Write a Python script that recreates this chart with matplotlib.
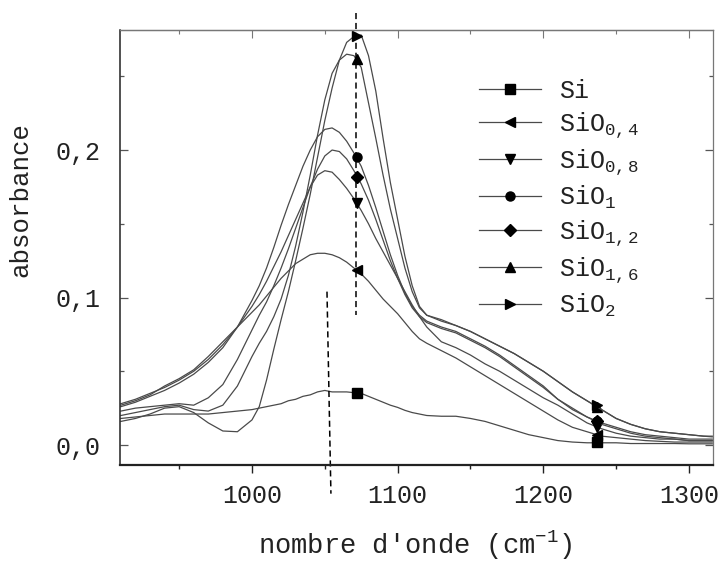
import matplotlib
matplotlib.use("Agg")
import matplotlib.pyplot as plt
from matplotlib.ticker import MultipleLocator, FixedLocator, FixedFormatter

plt.rcParams['font.family'] = ['Liberation Mono', 'DejaVu Sans Mono']
plt.rcParams['mathtext.fontset'] = 'custom'
plt.rcParams['mathtext.rm'] = 'Liberation Mono'
plt.rcParams['mathtext.it'] = 'Liberation Mono'
plt.rcParams['mathtext.bf'] = 'Liberation Mono'

# ---- data ----
wavenumber = [910, 920, 930, 940, 950, 960, 970, 980, 990, 1000,
              1005, 1010, 1015, 1020, 1025, 1030, 1035, 1040, 1045, 1050,
              1055, 1060, 1065, 1070, 1075, 1080, 1085, 1090, 1095, 1100,
              1105, 1110, 1115, 1120, 1130, 1140, 1150, 1160, 1170, 1180,
              1190, 1200, 1210, 1220, 1230, 1240, 1250, 1260, 1270, 1280,
              1290, 1300, 1310, 1316]

abs_Si = [.018, .019, .020, .021, .021, .021, .021, .022, .023, .024,
          .025, .026, .027, .028, .030, .031, .033, .034, .036, .037,
          .036, .036, .036, .0355, .035, .033, .031, .029, .027, .0255,
          .0235, .022, .021, .020, .0195, .0195, .018, .016, .013, .010,
          .007, .005, .003, .002, .0015, .0015, .0015, .001, .001, .001,
          .001, .0008, .0008, .0008]

abs_SiO04 = [.027, .030, .034, .040, .045, .051, .060, .070, .080, .090,
             .095, .101, .107, .113, .118, .123, .126, .129, .130, .130,
             .129, .127, .124, .120, .116, .111, .105, .099, .094, .089,
             .083, .077, .072, .069, .064, .059, .053, .047, .041, .035,
             .029, .023, .017, .012, .009, .006, .005, .004, .003, .0025,
             .002, .002, .002, .002]

abs_SiO08 = [.028, .031, .035, .039, .044, .050, .058, .068, .080, .094,
             .102, .111, .121, .131, .142, .153, .164, .175, .183, .186,
             .185, .180, .174, .167, .159, .150, .140, .131, .122, .113,
             .104, .095, .087, .080, .070, .066, .061, .055, .050, .044,
             .038, .032, .027, .021, .015, .011, .008, .006, .005, .004,
             .004, .003, .003, .003]

abs_SiO1 = [.026, .029, .033, .037, .042, .048, .056, .066, .080, .098,
            .108, .120, .134, .149, .163, .176, .189, .200, .209, .214,
            .215, .212, .206, .198, .189, .176, .161, .145, .129, .115,
            .103, .094, .088, .084, .080, .077, .072, .067, .061, .054,
            .047, .040, .031, .025, .019, .015, .012, .009, .007, .006,
            .005, .004, .004, .004]

abs_SiO12 = [.023, .025, .026, .027, .028, .027, .032, .041, .058, .078,
             .088, .097, .108, .120, .133, .147, .161, .175, .187, .196,
             .200, .199, .194, .186, .177, .166, .153, .139, .125, .113,
             .102, .093, .087, .083, .079, .076, .071, .066, .060, .053,
             .046, .039, .031, .024, .019, .014, .011, .008, .006, .005,
             .004, .003, .003, .003]

abs_SiO16 = [.020, .022, .024, .026, .027, .024, .023, .027, .040, .060,
             .069, .077, .087, .099, .115, .135, .158, .183, .210, .234,
             .252, .261, .265, .264, .256, .232, .208, .183, .160, .140,
             .120, .104, .093, .088, .084, .081, .077, .072, .067, .062,
             .056, .050, .043, .036, .030, .024, .018, .014, .011, .009,
             .008, .007, .006, .006]

abs_SiO2 = [.016, .018, .021, .025, .026, .022, .015, .0095, .009, .017,
            .026, .044, .065, .085, .104, .125, .147, .170, .195, .220,
            .242, .261, .273, .277, .278, .264, .240, .208, .178, .153,
            .128, .108, .094, .088, .085, .081, .077, .072, .067, .062,
            .056, .050, .043, .036, .030, .024, .018, .014, .011, .009,
            .008, .007, .006, .0055]

labels = ['Si', 'SiO$_{0,4}$', 'SiO$_{0,8}$', 'SiO$_{1}$',
          'SiO$_{1,2}$', 'SiO$_{1,6}$', 'SiO$_{2}$']
markers = ['s', '<', 'v', 'o', 'D', '^', '>']

marker_wn = [1072, 1237]
marker_Si = [0.035, 0.002]
marker_SiO04 = [0.119, 0.007]
marker_SiO08 = [0.164, 0.012]
marker_SiO1 = [0.195, 0.016]
marker_SiO12 = [0.182, 0.016]
marker_SiO16 = [0.262, 0.026]
marker_SiO2 = [0.277, 0.027]

series = [abs_Si, abs_SiO04, abs_SiO08, abs_SiO1, abs_SiO12, abs_SiO16, abs_SiO2]
marker_vals = [marker_Si, marker_SiO04, marker_SiO08, marker_SiO1,
               marker_SiO12, marker_SiO16, marker_SiO2]

xticks = [1000, 1100, 1200, 1300]
yticks = [0.0, 0.1, 0.2]
yticklabels = ['0,0', '0,1', '0,2']

# ---- figure ----
fig = plt.figure(figsize=(7.26, 5.62), dpi=100)
ax = fig.add_axes([120/726, 1 - 465/562, 593/726, 435/562])

line_col = '#4a4a4a'
for y, m, lab, mv in zip(series, markers, labels, marker_vals):
    ax.plot(wavenumber, y, color=line_col, lw=0.9)
    ms = 6.3 if m == 'D' else 6.5
    ax.plot(marker_wn, mv, linestyle='none', marker=m, color='k', ms=ms)
    ax.plot([], [], color=line_col, lw=0.9, marker=m, mfc='k', mec='k',
            ms=ms, label=lab)

# dashed guide lines
ax.plot([1051.5, 1054.2], [0.104, -0.033], color='k', lw=1.1,
        ls=(0, (4, 2.5)), clip_on=False)
ax.plot([1071.2, 1071.2], [0.293, 0.088], color='k', lw=1.1,
        ls=(0, (4, 2.5)), clip_on=False)

ax.set_xlim(909.4, 1316.5)
ax.set_ylim(-0.01356, 0.2814)

ax.xaxis.set_major_locator(FixedLocator(xticks))
ax.xaxis.set_minor_locator(MultipleLocator(50))
ax.yaxis.set_major_locator(FixedLocator(yticks))
ax.yaxis.set_major_formatter(FixedFormatter(yticklabels))
ax.yaxis.set_minor_locator(MultipleLocator(0.05))

ax.tick_params(axis='x', which='both', direction='out', bottom=True, top=False,
               labelsize=18, color='#222222')
ax.tick_params(axis='x', which='major', length=6, width=1.0, pad=8)
ax.tick_params(axis='x', which='minor', length=3, width=1.0)
ax.tick_params(axis='y', which='both', direction='in', left=True, right=True,
               labelsize=18, color='#555555')
ax.tick_params(axis='y', which='major', length=6, width=0.9, pad=14)
ax.tick_params(axis='y', which='minor', length=3, width=0.9)

# top inward ticks
secx = ax.secondary_xaxis('top')
secx.xaxis.set_major_locator(FixedLocator(xticks))
secx.xaxis.set_minor_locator(MultipleLocator(50))
secx.tick_params(which='both', direction='in', labeltop=False, color='#777777')
secx.tick_params(which='major', length=6, width=0.8)
secx.tick_params(which='minor', length=3, width=0.8)
secx.spines['top'].set_color('#777777')
secx.spines['top'].set_linewidth(0.9)

for side in ['left', 'bottom']:
    ax.spines[side].set_color('#222222')
ax.spines['left'].set_linewidth(1.1)
ax.spines['bottom'].set_linewidth(1.6)
ax.spines['top'].set_color('#777777')
ax.spines['right'].set_color('#777777')
ax.spines['top'].set_linewidth(0.9)
ax.spines['right'].set_linewidth(0.9)

for lbl in ax.get_xticklabels() + ax.get_yticklabels():
    lbl.set_color('#222222')

ax.set_xlabel("nombre d'onde (cm$^{-1}$)", fontsize=19.5, color='#222222')
ax.xaxis.set_label_coords(0.497, -0.148)
ax.set_ylabel('absorbance', fontsize=18.5, color='#222222')
ax.yaxis.set_label_coords(-0.148, 0.61)

leg = ax.legend(loc='upper left', bbox_to_anchor=(0.605, 0.888),
                frameon=False, fontsize=18, handlelength=2.5,
                handletextpad=0.7, labelspacing=0.29, borderpad=0,
                borderaxespad=0)
for t in leg.get_texts():
    t.set_color('#222222')

fig.savefig('out.png', dpi=100)
